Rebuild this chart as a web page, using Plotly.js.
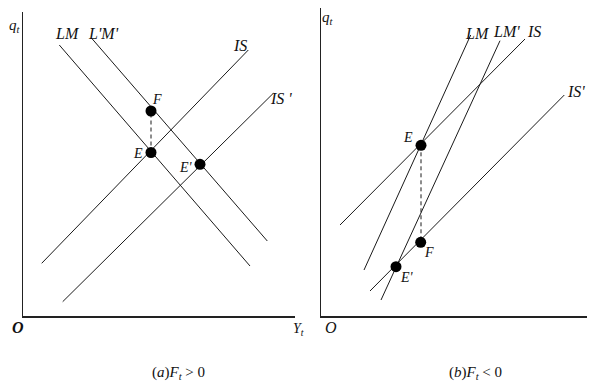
<!DOCTYPE html>
<html><head><meta charset="utf-8">
<script src="https://cdn.plot.ly/plotly-3.0.1.min.js"></script>
<style>html,body{margin:0;padding:0;background:#fff}#c{width:601px;height:383px}</style>
</head><body><div id="c"></div>
<script>
// Panel (a): F_t > 0  (x = Y_t, y = q_t)
const aLM_x = [3.63, 22.7],  aLM_y = [27.1, 5.0];
const aLM2_x = [6.87, 24.43], aLM2_y = [27.77, 7.5];
const aIS_x = [1.87, 22.53], aIS_y = [5.27, 26.6];
const aIS2_x = [3.97, 25.03], aIS2_y = [1.43, 22.27];
const aPts_x = [12.8, 12.8, 17.7], aPts_y = [16.35, 20.5, 15.17]; // E, F, E'
const aDash_x = [12.8, 12.8], aDash_y = [16.35, 20.5];
// Panel (b): F_t < 0
const bLM_x = [4.3, 14.97], bLM_y = [4.6, 28.1];
const bLM2_x = [6.0, 17.9], bLM2_y = [1.6, 27.53];
const bIS_x = [1.9, 20.4], bIS_y = [9.1, 27.7];
const bIS2_x = [4.9, 24.33], bIS2_y = [2.5, 22.1];
const bPts_x = [10.0, 9.97, 7.5], bPts_y = [17.07, 7.37, 4.93]; // E, F, E'
const bDash_x = [10.0, 10.0], bDash_y = [17.07, 7.37];

const lineC = '#1a1a1a';
function ln(x, y, ax, dash) {
  return {x: x, y: y, xaxis: ax[0], yaxis: ax[1], mode: 'lines', type: 'scatter',
    line: {color: lineC, width: 1, dash: dash || 'solid'}, hoverinfo: 'skip', showlegend: false};
}
function pts(x, y, ax) {
  return {x: x, y: y, xaxis: ax[0], yaxis: ax[1], mode: 'markers', type: 'scatter',
    marker: {color: '#000', size: 11}, hoverinfo: 'skip', showlegend: false, cliponaxis: false};
}
const A = ['x', 'y'], B = ['x2', 'y2'];
const data = [
  ln(aDash_x, aDash_y, A, '4px,3px'),
  ln(aLM_x, aLM_y, A), ln(aLM2_x, aLM2_y, A), ln(aIS_x, aIS_y, A), ln(aIS2_x, aIS2_y, A),
  pts(aPts_x, aPts_y, A),
  ln(bDash_x, bDash_y, B, '4px,3px'),
  ln(bLM_x, bLM_y, B), ln(bLM2_x, bLM2_y, B), ln(bIS_x, bIS_y, B), ln(bIS2_x, bIS2_y, B),
  pts(bPts_x, bPts_y, B)
];

const serif = 'Liberation Serif';
function lab(text, x, y, ax, size) {
  return {text: text, x: x, y: y, xref: ax[0], yref: ax[1], showarrow: false,
    xanchor: 'center', yanchor: 'middle',
    font: {family: serif, size: size || 16, color: '#111', style: 'italic'}};
}
// labels placed in page pixels (converted to paper fractions below)
function plab(text, px, py, size, extra) {
  const f = Object.assign({family: serif, size: size, color: '#111', style: 'italic'}, extra || {});
  return {text: text, x: px / 601, y: (383 - py) / 383, xref: 'paper', yref: 'paper',
    xanchor: 'center', yanchor: 'middle', showarrow: false, font: f};
}
const ann = [
  plab('q<sub>t</sub>', 15, 26, 15),
  lab('LM', 4.4, 28.3, A), lab("L'M'", 8.0, 28.3, A),
  lab('IS', 21.7, 27.1, A), lab("IS '", 25.8, 21.8, A),
  lab('F', 13.4, 21.7, A, 14), lab('E', 11.5, 16.3, A, 14), lab("E'", 16.3, 14.9, A, 14),
  plab('O', 18, 327, 16, {weight: 'bold'}), plab('Y<sub>t</sub>', 298, 329, 14),
  plab('q<sub>t</sub>', 328, 18, 15),
  lab('LM', 15.6, 28.3, B), lab("LM'", 18.5, 28.4, B), lab('IS', 21.3, 28.4, B),
  lab("IS'", 25.5, 22.5, B),
  lab('E', 8.7, 17.9, B, 14), lab('F', 10.8, 6.4, B, 14), lab("E'", 8.6, 3.9, B, 14),
  plab('O', 331, 327, 16),
  plab('(<i>a</i>)<i>F<sub>t</sub></i> > 0', 178, 373, 15, {style: 'normal'}),
  plab('(<i>b</i>)<i>F<sub>t</sub></i> < 0', 475, 373, 15, {style: 'normal'})
];

function axis(dom, range, anchor) {
  return {domain: dom, range: range, anchor: anchor, showgrid: false, zeroline: false,
    showticklabels: false, ticks: '', showline: true, linecolor: '#222', linewidth: 1.5, fixedrange: true};
}
const layout = {
  width: 601, height: 383, margin: {l: 0, r: 0, t: 0, b: 0},
  paper_bgcolor: '#fff', plot_bgcolor: '#fff', showlegend: false,
  xaxis: axis([23 / 601, 295 / 601], [0, 27.2], 'y'),
  yaxis: axis([(383 - 316) / 383, (383 - 12) / 383], [0, 30.4], 'x'),
  xaxis2: axis([321 / 601, 587 / 601], [0, 26.6], 'y2'),
  yaxis2: axis([(383 - 316) / 383, (383 - 8) / 383], [0, 30.8], 'x2'),
  annotations: ann
};
Plotly.newPlot('c', data, layout, {staticPlot: true, displayModeBar: false});
</script></body></html>
